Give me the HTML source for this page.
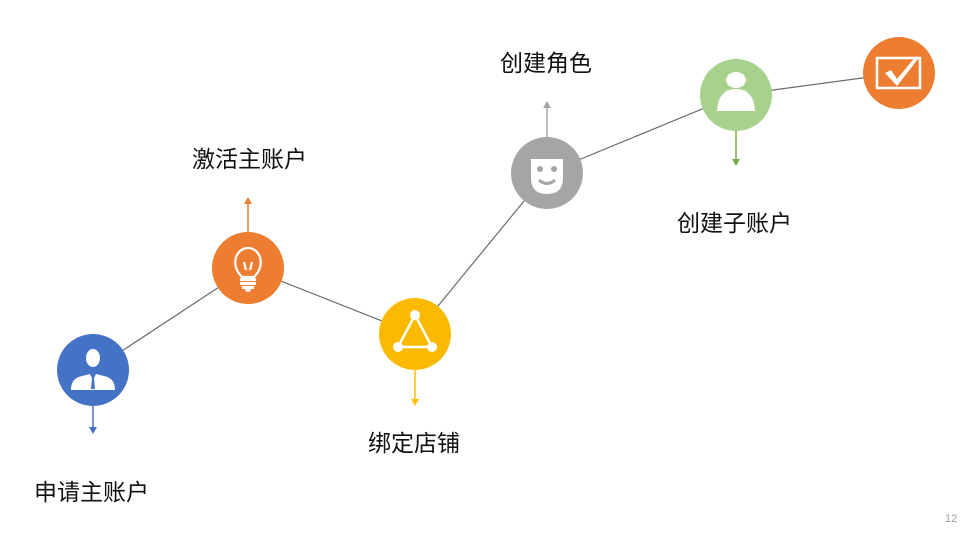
<!DOCTYPE html>
<html><head><meta charset="utf-8"><style>
html,body{margin:0;padding:0;background:#fff;}
svg{display:block}
text{font-family:"Liberation Sans","Noto Sans CJK SC",sans-serif;font-size:23px;fill:#111;}
</style></head><body>
<svg width="966" height="535" viewBox="0 0 966 535" xmlns="http://www.w3.org/2000/svg">
<g stroke="#6b6b6b" stroke-width="1.2" fill="none">
<line x1="93" y1="370" x2="248" y2="268"/>
<line x1="248" y1="268" x2="415" y2="334"/>
<line x1="415" y1="334" x2="547" y2="173"/>
<line x1="547" y1="173" x2="736" y2="95"/>
<line x1="736" y1="95" x2="899" y2="73"/>
</g>
<!-- arrows -->
<g stroke-width="1.5">
<line x1="93" y1="406" x2="93" y2="428" stroke="#4472c4"/>
<polygon points="89,427 97,427 93,434" fill="#4472c4"/>
<line x1="248" y1="232" x2="248" y2="203" stroke="#ed7d31"/>
<polygon points="244,204 252,204 248,197" fill="#ed7d31"/>
<line x1="415" y1="370" x2="415" y2="400" stroke="#ffc000"/>
<polygon points="411,399 419,399 415,406" fill="#ffc000"/>
<line x1="547" y1="137" x2="547" y2="107" stroke="#a5a5a5"/>
<polygon points="543,108 551,108 547,101" fill="#a5a5a5"/>
<line x1="736" y1="131" x2="736" y2="160" stroke="#70ad47"/>
<polygon points="732,159 740,159 736,166" fill="#70ad47"/>
</g>
<!-- circles -->
<circle cx="93" cy="370" r="36" fill="#4472c4"/>
<circle cx="248" cy="268" r="36" fill="#ed7d31"/>
<circle cx="415" cy="334" r="36" fill="#fbba00"/>
<circle cx="547" cy="173" r="36" fill="#a5a5a5"/>
<circle cx="736" cy="95" r="36" fill="#a9d18e"/>
<circle cx="899" cy="73" r="36" fill="#ed7d31"/>
<!-- icon 1: businessman -->
<g fill="#fff">
<ellipse cx="93" cy="358" rx="7" ry="9"/>
<path d="M71,390 Q71,378 82,376 L90,374 L93,380 L96,374 L104,376 Q115,378 115,390 Z"/>
</g>
<path d="M92,378 L94,378 L95,389 L91,389 Z" fill="#4472c4"/>
<!-- icon 2: bulb -->
<g fill="none" stroke="#fff" stroke-width="2.2">
<path d="M242,277 Q233,268 236,257 Q240,248 248,248 Q256,248 260,257 Q263,268 254,277 Z"/>
<line x1="246" y1="270" x2="244" y2="262"/><line x1="250" y1="270" x2="252" y2="262"/>
</g>
<g fill="#fff"><rect x="240" y="278" width="16" height="3"/><rect x="240" y="282" width="16" height="3"/><rect x="242" y="286" width="12" height="3"/><ellipse cx="248" cy="290" rx="3" ry="2"/></g>
<!-- icon 3: triangle -->
<g stroke="#fff" stroke-width="2.5" fill="none"><polygon points="415,315 398,347 432,347"/></g>
<g fill="#fff"><circle cx="415" cy="315" r="5"/><circle cx="398" cy="347" r="5"/><circle cx="432" cy="347" r="5"/></g>
<!-- icon 4: mask -->
<path d="M531,159 L563,159 L563,178 Q563,194 547,194 Q531,194 531,178 Z" fill="#fff"/>
<circle cx="540" cy="169" r="3" fill="#a5a5a5"/><circle cx="554" cy="169" r="3" fill="#a5a5a5"/>
<path d="M539,180 Q547,187 555,180" stroke="#a5a5a5" stroke-width="3" fill="none"/>
<!-- icon 5: person -->
<g fill="#fff"><ellipse cx="736" cy="80" rx="10" ry="8"/><path d="M717,111 Q718,89 736,89 Q754,89 755,111 Z"/></g>
<!-- icon 6: check box -->
<rect x="877" y="58" width="43" height="30" fill="none" stroke="#fff" stroke-width="2.5"/>
<path d="M885,73 L891,70 L897,79 L916,56 L918,59 L897,86 Z" fill="#fff"/>
<!-- labels -->
<text x="34" y="500">申请主账户</text>
<text x="192" y="167">激活主账户</text>
<text x="368" y="451">绑定店铺</text>
<text x="500" y="71">创建角色</text>
<text x="677" y="231">创建子账户</text>
<text x="945" y="522" style="font-size:11px;fill:#999">12</text>
</svg>
</body></html>
